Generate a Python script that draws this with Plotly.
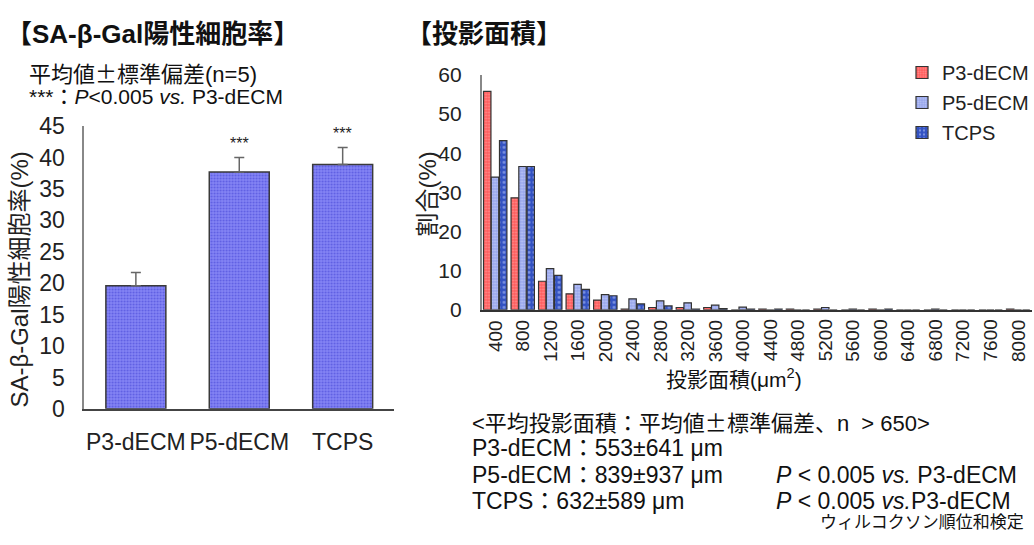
import plotly.graph_objects as go

W, H = 1034, 545
FONT = "Liberation Sans, Arial, Noto Sans CJK JP, sans-serif"
CJK = "Noto Sans CJK JP"

# --- SA-β-Gal positive cell rate (mean ± SD, n=5) ---
groups = ["P3-dECM", "P5-dECM", "TCPS"]
rate_mean = [19.6, 37.7, 38.9]
rate_sd = [2.1, 2.3, 2.7]
rate_sig = ["", "***", "***"]

# --- projected-area histogram (%) ---
area_bins = ["400", "800", "1200", "1600", "2000", "2400", "2800", "3200", "3600", "4000",
             "4400", "4800", "5200", "5600", "6000", "6400", "6800", "7200", "7600", "8000"]
p3_pct = [55.8, 28.6, 7.3, 4.1, 2.5, 0.2, 0.6, 0.6, 0.6, 0.0,
          0.2, 0.2, 0.2, 0.0, 0.2, 0.0, 0.0, 0.0, 0.0, 0.2]
p5_pct = [33.9, 36.6, 10.5, 6.5, 3.9, 2.8, 2.3, 1.8, 1.2, 0.7,
          0.0, 0.0, 0.6, 0.2, 0.0, 0.0, 0.2, 0.0, 0.0, 0.0]
tcps_pct = [43.2, 36.6, 8.8, 5.2, 3.6, 1.5, 1.0, 0.2, 0.3, 0.2,
            0.2, 0.0, 0.0, 0.0, 0.2, 0.0, 0.0, 0.0, 0.0, 0.0]


def px_x(p):
    return p / W


def px_y(p):
    return (H - p) / H


PM = f'<span style="font-family:{CJK}">±</span>'

fig = go.Figure()

# left panel bars
fig.add_trace(go.Bar(
    x=groups, y=rate_mean, width=0.58,
    marker=dict(color="#7474ee",
                pattern=dict(shape=".", fgcolor="#3434d0", bgcolor="#8484f4",
                             size=3, solidity=0.35),
                line=dict(color="#3a3a3a", width=1.5)),
    error_y=dict(type="data", symmetric=False, array=rate_sd,
                 arrayminus=[0] * len(rate_sd), color="#666666",
                 thickness=1.5, width=5),
    xaxis="x", yaxis="y", showlegend=False,
))

# right panel histogram, three series side by side
series = [
    ("P3-dECM", p3_pct, "#ff5c5c", "#ffc4c4", 3, 0.35, -0.428),
    ("P5-dECM", p5_pct, "#98a6ec", "#e2e7ff", 3, 0.35, -0.146),
    ("TCPS", tcps_pct, "#3352c2", "#c9d5ff", 5, 0.25, 0.152),
]
for i, (name, vals, bg, fg, sz, sol, off) in enumerate(series):
    fig.add_trace(go.Bar(
        name=name, x=area_bins, y=vals, width=0.27, offset=off,
        marker=dict(color=bg,
                    pattern=dict(shape=".", fgcolor=fg, bgcolor=bg,
                                 size=sz, solidity=sol),
                    line=dict(color="#333333", width=1.2)),
        xaxis="x2", yaxis="y2", legendgroup=f"g{i}",
    ))

# significance marks above the error bars
for g, m, s, t in zip(groups, rate_mean, rate_sd, rate_sig):
    if t:
        fig.add_annotation(x=g, y=m + s, xref="x", yref="y", text=t,
                           showarrow=False, yanchor="bottom", yshift=3,
                           font=dict(size=16, color="#222222"))

# rotated bin labels, top-aligned under the axis (x given as category index)
for idx, b in enumerate(area_bins):
    fig.add_annotation(x=idx, y=px_y(320), xref="x2", yref="paper", text=b,
                       textangle=-90, showarrow=False, xanchor="center",
                       yanchor="top", font=dict(size=19, color="#222222"))

base = dict(showgrid=False, zeroline=False, ticks="")

fig.update_layout(
    width=W, height=H,
    margin=dict(l=0, r=0, t=0, b=0),
    paper_bgcolor="white", plot_bgcolor="white",
    font=dict(family=FONT, color="#222222"),
    barmode="overlay",
    xaxis=dict(domain=[px_x(84.25), px_x(394.75)], anchor="y",
               range=[-0.5, len(groups) - 0.5],
               showline=True, linecolor="#444444", linewidth=1.5,
               ticklabelstandoff=12, tickfont=dict(size=23, color="#222222"), **base),
    yaxis=dict(domain=[px_y(415.7), px_y(118.7)], anchor="x", range=[0, 45],
               dtick=5, showline=True, linecolor="#888888", linewidth=1.5,
               ticklabelstandoff=13, tickfont=dict(size=23, color="#222222"), **base),
    xaxis2=dict(domain=[px_x(482), px_x(1033)], anchor="y2", type="category",
                range=[-0.5, len(area_bins) - 0.5],
                showline=True, linecolor="#333333", linewidth=1.5,
                showticklabels=False, **base),
    yaxis2=dict(domain=[px_y(311.7), px_y(65)], anchor="x2", range=[0, 60],
                dtick=10, showline=True, linecolor="#888888", linewidth=1.5,
                ticklabelstandoff=14, tickfont=dict(size=21, color="#222222"), **base),
    legend=dict(x=px_x(903), y=px_y(42), xanchor="left", yanchor="top",
                font=dict(size=20, family=FONT), traceorder="grouped",
                tracegroupgap=1, itemwidth=30, bgcolor="rgba(0,0,0,0)"),
)

# free text: titles, notes, axis titles
texts = [
    (4, 22, "<b>【SA-β-Gal陽性細胞率】</b>", 26, "left"),
    (404, 22, "<b>【投影面積】</b>", 26, "left"),
    (27, 62, f"平均値{PM}標準偏差(n=5)", 22, "left"),
    (27, 88, "***：<i>P</i>&lt;0.005 <i>vs.</i> P3-dECM", 21, "left"),
    (735, 383, "投影面積(μm<sup>2</sup>)", 21, "center"),
    (470, 428, f"&lt;平均投影面積：平均値{PM}標準偏差、n  &gt; 650&gt;", 22, "left"),
    (470, 457, "P3-dECM：553±641 μm", 23, "left"),
    (470, 485, "P5-dECM：839±937 μm", 23, "left"),
    (470, 512, "TCPS：632±589 μm", 23, "left"),
    (775, 485, "<i>P</i> &lt; 0.005 <i>vs.</i> P3-dECM", 23, "left"),
    (775, 512, "<i>P</i> &lt; 0.005 <i>vs.</i>P3-dECM", 23, "left"),
    (1027, 535, "ウィルコクソン順位和検定", 17, "right"),
]
for x, y, t, s, anc in texts:
    fig.add_annotation(x=px_x(x), y=px_y(y), xref="paper", yref="paper",
                       text=t, showarrow=False, xanchor=anc, yanchor="middle",
                       font=dict(size=s, family=FONT, color="#111111"))

# rotated y-axis titles
fig.add_annotation(x=px_x(20), y=px_y(280), xref="paper", yref="paper",
                   text="SA-β-Gal陽性細胞率(%)", textangle=-90, showarrow=False,
                   xanchor="center", yanchor="middle",
                   font=dict(size=24, family=FONT, color="#222222"))
fig.add_annotation(x=px_x(428), y=px_y(190), xref="paper", yref="paper",
                   text="割合(%)", textangle=-90, showarrow=False,
                   xanchor="center", yanchor="middle",
                   font=dict(size=24, family=FONT, color="#222222"))

fig.write_html("out.html")
